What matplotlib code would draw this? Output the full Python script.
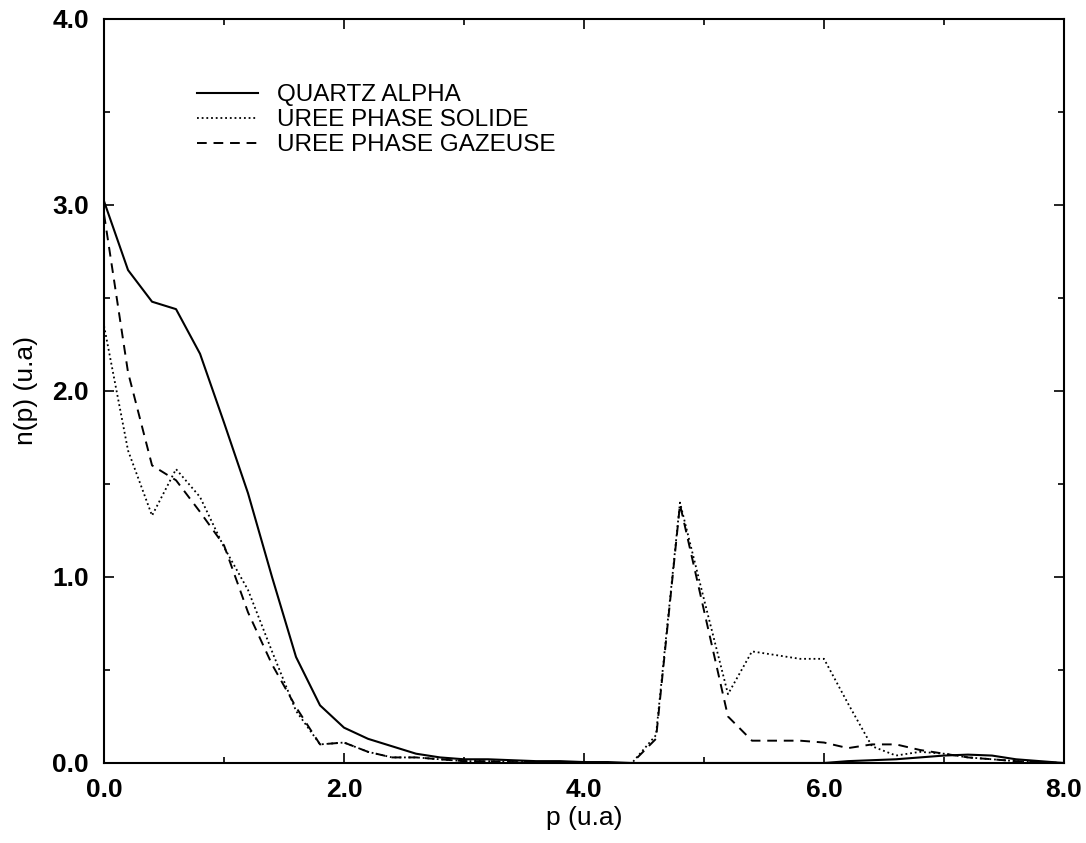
import matplotlib
matplotlib.use('Agg')
import matplotlib.pyplot as plt
from matplotlib.ticker import MultipleLocator, FormatStrFormatter

plt.rcParams['font.family'] = ['Liberation Sans', 'DejaVu Sans']

# momentum grid (u.a), step 0.2
p = [round(0.2 * i, 1) for i in range(41)]

quartz = [3.02, 2.65, 2.48, 2.44, 2.20, 1.83, 1.45, 1.00, 0.57, 0.31,
          0.19, 0.13, 0.09, 0.05, 0.03, 0.02, 0.02, 0.015, 0.01, 0.01,
          0.005, 0.005, 0.0, 0.0, 0.0, 0.0, 0.0, 0.0, 0.0, 0.0,
          0.0, 0.01, 0.015, 0.02, 0.03, 0.04, 0.045, 0.04, 0.02, 0.01,
          0.0]

uree_solide = [2.35, 1.68, 1.33, 1.58, 1.43, 1.16, 0.93, 0.60, 0.28, 0.10,
               0.11, 0.06, 0.03, 0.03, 0.02, 0.01, 0.01, 0.005, 0.005, 0.0,
               0.0, 0.0, 0.0, 0.15, 1.40, 0.88, 0.37, 0.60, 0.58, 0.56,
               0.56, 0.32, 0.09, 0.04, 0.06, 0.05, 0.03, 0.02, 0.01, 0.005,
               0.0]

uree_gaz = [2.95, 2.10, 1.60, 1.52, 1.35, 1.17, 0.81, 0.53, 0.30, 0.10,
            0.11, 0.06, 0.03, 0.03, 0.02, 0.01, 0.01, 0.005, 0.005, 0.0,
            0.0, 0.0, 0.0, 0.13, 1.39, 0.82, 0.25, 0.12, 0.12, 0.12,
            0.11, 0.08, 0.10, 0.10, 0.07, 0.05, 0.03, 0.02, 0.01, 0.005,
            0.0]

labels = ['QUARTZ ALPHA', 'UREE PHASE SOLIDE', 'UREE PHASE GAZEUSE']

fig = plt.figure(figsize=(10.86, 8.43), dpi=100)
ax = fig.add_axes([0.0958, 0.0949, 0.8839, 0.8826])

ax.plot(p, quartz, color='black', linewidth=1.5, label=labels[0])
ax.plot(p, uree_solide, color='black', linewidth=1.3, linestyle=(0, (1, 1.6)), label=labels[1])
ax.plot(p, uree_gaz, color='black', linewidth=1.4, linestyle=(0, (5, 3.5)), label=labels[2])

ax.set_xlim(0, 8)
ax.set_ylim(0, 4)
ax.xaxis.set_major_locator(MultipleLocator(2))
ax.xaxis.set_minor_locator(MultipleLocator(1))
ax.yaxis.set_major_locator(MultipleLocator(1))
ax.yaxis.set_minor_locator(MultipleLocator(0.5))
ax.xaxis.set_major_formatter(FormatStrFormatter('%.1f'))
ax.yaxis.set_major_formatter(FormatStrFormatter('%.1f'))
ax.tick_params(which='both', direction='in', top=True, right=True, width=1.2)
ax.tick_params(which='major', length=7, labelsize=19)
ax.tick_params(axis='x', which='major', pad=11)
ax.tick_params(axis='y', which='major', pad=11)
ax.tick_params(which='minor', length=4)
for lab in ax.get_xticklabels() + ax.get_yticklabels():
    lab.set_fontweight('bold')
for s in ax.spines.values():
    s.set_linewidth(1.5)

ax.set_xlabel('p (u.a)', fontsize=19, labelpad=3)
ax.set_ylabel('n(p) (u.a)', fontsize=19, labelpad=10)

ax.legend(loc='upper left', bbox_to_anchor=(0.097, 0.912), frameon=False,
          fontsize=17.5, handlelength=2.5, handletextpad=0.8, labelspacing=0.12,
          borderpad=0, borderaxespad=0)

fig.savefig('out.png', dpi=100)
